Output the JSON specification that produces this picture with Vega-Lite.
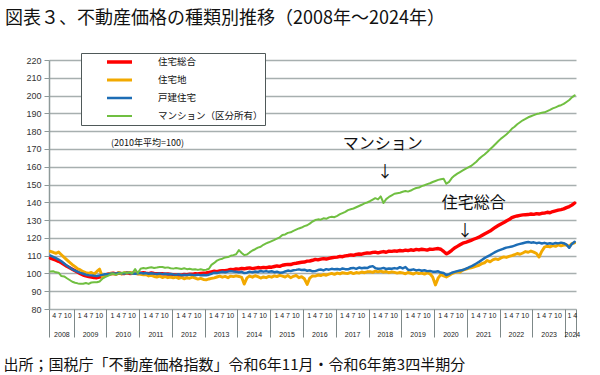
{
"$schema": "https://vega.github.io/schema/vega-lite/v6.json",
"width": 527, "height": 249,
"autosize": {"type": "none"},
"padding": {"left": 49, "top": 60, "right": 24, "bottom": 66},
"background": "white",
"title": {"text": "図表３、不動産価格の種類別推移（2008年～2024年）", "anchor": "start", "frame": "group", "dx": -44, "fontSize": 18, "font": "Noto Sans CJK JP", "fontWeight": "normal", "color": "#111111", "offset": 25},
"data": {"values": [
{"d":"2008-04","t":108.6,"l":112.4,"k":110.0,"m":101.1},
{"d":"2008-05","t":108.0,"l":111.9,"k":109.3,"m":101.2},
{"d":"2008-06","t":107.5,"l":111.3,"k":108.6,"m":100.6},
{"d":"2008-07","t":106.8,"l":112.0,"k":107.8,"m":100.4},
{"d":"2008-08","t":106.0,"l":110.5,"k":106.8,"m":98.5},
{"d":"2008-09","t":105.0,"l":109.0,"k":105.6,"m":98.3},
{"d":"2008-10","t":104.0,"l":107.6,"k":104.4,"m":97.3},
{"d":"2008-11","t":103.2,"l":106.2,"k":103.3,"m":96.3},
{"d":"2008-12","t":102.4,"l":104.9,"k":102.3,"m":95.3},
{"d":"2009-01","t":101.5,"l":103.8,"k":101.6,"m":94.8},
{"d":"2009-02","t":100.6,"l":102.6,"k":100.9,"m":94.4},
{"d":"2009-03","t":99.8,"l":102.0,"k":100.3,"m":94.2},
{"d":"2009-04","t":99.1,"l":101.0,"k":99.8,"m":94.2},
{"d":"2009-05","t":98.6,"l":100.4,"k":99.3,"m":94.6},
{"d":"2009-06","t":98.2,"l":100.0,"k":99.0,"m":94.1},
{"d":"2009-07","t":98.0,"l":100.6,"k":98.9,"m":94.9},
{"d":"2009-08","t":97.7,"l":99.6,"k":98.7,"m":95.1},
{"d":"2009-09","t":97.6,"l":101.1,"k":98.6,"m":95.0},
{"d":"2009-10","t":97.9,"l":102.4,"k":98.9,"m":95.5},
{"d":"2009-11","t":98.6,"l":98.0,"k":99.2,"m":97.0},
{"d":"2009-12","t":98.9,"l":99.0,"k":99.5,"m":97.9},
{"d":"2010-01","t":99.6,"l":99.3,"k":99.5,"m":98.6},
{"d":"2010-02","t":99.8,"l":100.1,"k":99.9,"m":99.4},
{"d":"2010-03","t":100.1,"l":99.8,"k":100.0,"m":99.8},
{"d":"2010-04","t":99.7,"l":99.6,"k":99.8,"m":99.2},
{"d":"2010-05","t":100.2,"l":100.5,"k":100.3,"m":99.9},
{"d":"2010-06","t":100.0,"l":99.7,"k":100.1,"m":100.2},
{"d":"2010-07","t":99.9,"l":100.4,"k":99.9,"m":100.6},
{"d":"2010-08","t":100.3,"l":100.2,"k":100.4,"m":100.3},
{"d":"2010-09","t":100.0,"l":100.6,"k":100.2,"m":100.6},
{"d":"2010-10","t":100.1,"l":99.9,"k":100.0,"m":100.1},
{"d":"2010-11","t":100.2,"l":100.0,"k":99.8,"m":102.4},
{"d":"2010-12","t":99.9,"l":99.8,"k":100.1,"m":100.2},
{"d":"2011-01","t":100.2,"l":99.5,"k":100.3,"m":102.6},
{"d":"2011-02","t":100.4,"l":99.2,"k":100.0,"m":103.0},
{"d":"2011-03","t":100.1,"l":99.4,"k":100.2,"m":102.8},
{"d":"2011-04","t":99.9,"l":98.6,"k":99.8,"m":103.2},
{"d":"2011-05","t":100.3,"l":98.9,"k":100.1,"m":103.5},
{"d":"2011-06","t":100.0,"l":98.3,"k":99.9,"m":103.1},
{"d":"2011-07","t":99.8,"l":98.0,"k":99.7,"m":103.3},
{"d":"2011-08","t":99.9,"l":98.5,"k":100.0,"m":103.6},
{"d":"2011-09","t":99.8,"l":97.7,"k":99.6,"m":103.6},
{"d":"2011-10","t":99.6,"l":98.2,"k":99.8,"m":103.2},
{"d":"2011-11","t":99.7,"l":97.6,"k":99.5,"m":103.4},
{"d":"2011-12","t":99.5,"l":98.0,"k":99.7,"m":102.9},
{"d":"2012-01","t":99.3,"l":97.5,"k":99.4,"m":102.7},
{"d":"2012-02","t":99.1,"l":97.9,"k":99.2,"m":103.0},
{"d":"2012-03","t":99.2,"l":97.2,"k":99.5,"m":102.8},
{"d":"2012-04","t":99.0,"l":97.8,"k":99.0,"m":102.5},
{"d":"2012-05","t":99.4,"l":97.0,"k":99.3,"m":102.9},
{"d":"2012-06","t":99.3,"l":97.6,"k":99.1,"m":102.4},
{"d":"2012-07","t":99.6,"l":97.3,"k":99.4,"m":102.6},
{"d":"2012-08","t":99.5,"l":97.9,"k":99.2,"m":102.2},
{"d":"2012-09","t":99.8,"l":97.4,"k":99.0,"m":102.4},
{"d":"2012-10","t":99.7,"l":96.8,"k":99.3,"m":102.0},
{"d":"2012-11","t":100.0,"l":97.2,"k":98.9,"m":102.3},
{"d":"2012-12","t":100.2,"l":96.6,"k":99.1,"m":101.9},
{"d":"2013-01","t":100.3,"l":96.4,"k":99.0,"m":102.1},
{"d":"2013-02","t":100.6,"l":96.9,"k":99.3,"m":102.6},
{"d":"2013-03","t":100.9,"l":97.2,"k":99.8,"m":104.8},
{"d":"2013-04","t":101.2,"l":97.5,"k":100.4,"m":105.9},
{"d":"2013-05","t":101.0,"l":98.0,"k":100.2,"m":107.2},
{"d":"2013-06","t":101.4,"l":98.5,"k":100.6,"m":107.9},
{"d":"2013-07","t":101.6,"l":97.9,"k":100.9,"m":108.3},
{"d":"2013-08","t":101.5,"l":98.3,"k":100.7,"m":109.0},
{"d":"2013-09","t":101.8,"l":97.6,"k":101.0,"m":109.2},
{"d":"2013-10","t":102.3,"l":98.5,"k":101.3,"m":109.9},
{"d":"2013-11","t":102.1,"l":98.2,"k":101.1,"m":110.3},
{"d":"2013-12","t":102.5,"l":98.6,"k":101.0,"m":110.8},
{"d":"2014-01","t":102.4,"l":98.3,"k":100.6,"m":113.1},
{"d":"2014-02","t":102.8,"l":97.8,"k":100.9,"m":111.5},
{"d":"2014-03","t":102.6,"l":94.0,"k":100.2,"m":110.3},
{"d":"2014-04","t":102.9,"l":97.5,"k":100.4,"m":110.6},
{"d":"2014-05","t":103.1,"l":98.5,"k":101.0,"m":111.8},
{"d":"2014-06","t":102.7,"l":97.9,"k":100.6,"m":112.9},
{"d":"2014-07","t":103.0,"l":98.7,"k":101.1,"m":113.6},
{"d":"2014-08","t":103.3,"l":98.2,"k":100.8,"m":114.5},
{"d":"2014-09","t":103.1,"l":97.4,"k":101.4,"m":115.0},
{"d":"2014-10","t":103.4,"l":98.0,"k":101.0,"m":116.1},
{"d":"2014-11","t":103.2,"l":97.6,"k":101.3,"m":116.9},
{"d":"2014-12","t":103.6,"l":98.3,"k":100.9,"m":117.5},
{"d":"2015-01","t":103.5,"l":97.9,"k":101.2,"m":118.2},
{"d":"2015-02","t":103.9,"l":98.6,"k":100.7,"m":118.9},
{"d":"2015-03","t":104.2,"l":98.2,"k":101.0,"m":119.6},
{"d":"2015-04","t":104.0,"l":98.9,"k":100.4,"m":120.3},
{"d":"2015-05","t":104.6,"l":98.5,"k":100.5,"m":121.6},
{"d":"2015-06","t":104.9,"l":98.0,"k":101.1,"m":121.9},
{"d":"2015-07","t":105.1,"l":98.8,"k":101.6,"m":122.8},
{"d":"2015-08","t":105.0,"l":97.6,"k":101.3,"m":123.1},
{"d":"2015-09","t":105.5,"l":98.4,"k":101.8,"m":123.9},
{"d":"2015-10","t":105.7,"l":98.9,"k":102.0,"m":124.6},
{"d":"2015-11","t":106.0,"l":97.6,"k":102.3,"m":125.3},
{"d":"2015-12","t":106.3,"l":98.2,"k":101.9,"m":125.8},
{"d":"2016-01","t":106.4,"l":97.0,"k":102.1,"m":126.6},
{"d":"2016-02","t":106.9,"l":93.8,"k":101.5,"m":127.1},
{"d":"2016-03","t":107.0,"l":97.4,"k":101.8,"m":128.0},
{"d":"2016-04","t":107.4,"l":98.6,"k":101.2,"m":129.2},
{"d":"2016-05","t":107.9,"l":98.5,"k":101.3,"m":130.0},
{"d":"2016-06","t":107.6,"l":99.1,"k":101.9,"m":130.4},
{"d":"2016-07","t":108.0,"l":98.8,"k":102.2,"m":130.2},
{"d":"2016-08","t":108.3,"l":99.4,"k":101.7,"m":131.0},
{"d":"2016-09","t":108.1,"l":99.0,"k":102.4,"m":130.7},
{"d":"2016-10","t":108.5,"l":99.6,"k":102.1,"m":131.5},
{"d":"2016-11","t":108.8,"l":100.0,"k":102.6,"m":131.9},
{"d":"2016-12","t":109.0,"l":99.5,"k":102.3,"m":131.6},
{"d":"2017-01","t":109.2,"l":100.2,"k":102.5,"m":132.4},
{"d":"2017-02","t":109.6,"l":99.8,"k":102.2,"m":133.3},
{"d":"2017-03","t":109.4,"l":100.4,"k":102.8,"m":133.9},
{"d":"2017-04","t":109.9,"l":100.1,"k":102.4,"m":134.6},
{"d":"2017-05","t":110.1,"l":100.0,"k":102.3,"m":135.6},
{"d":"2017-06","t":110.4,"l":100.6,"k":102.9,"m":136.1},
{"d":"2017-07","t":110.2,"l":99.9,"k":103.1,"m":136.5},
{"d":"2017-08","t":110.7,"l":100.5,"k":102.6,"m":137.2},
{"d":"2017-09","t":110.9,"l":100.2,"k":103.3,"m":137.9},
{"d":"2017-10","t":110.8,"l":100.8,"k":102.9,"m":138.6},
{"d":"2017-11","t":111.3,"l":100.4,"k":103.2,"m":139.4},
{"d":"2017-12","t":111.5,"l":100.9,"k":103.0,"m":139.9},
{"d":"2018-01","t":111.4,"l":101.0,"k":103.8,"m":140.6},
{"d":"2018-02","t":111.8,"l":100.6,"k":104.1,"m":141.5},
{"d":"2018-03","t":112.0,"l":101.3,"k":103.0,"m":142.3},
{"d":"2018-04","t":111.6,"l":100.9,"k":102.6,"m":141.6},
{"d":"2018-05","t":112.0,"l":101.3,"k":102.7,"m":143.3},
{"d":"2018-06","t":112.3,"l":100.7,"k":103.1,"m":139.6},
{"d":"2018-07","t":111.9,"l":101.1,"k":102.5,"m":141.8},
{"d":"2018-08","t":112.5,"l":100.4,"k":102.8,"m":143.0},
{"d":"2018-09","t":112.4,"l":100.9,"k":102.6,"m":143.9},
{"d":"2018-10","t":112.7,"l":100.6,"k":103.0,"m":144.8},
{"d":"2018-11","t":112.5,"l":100.2,"k":102.7,"m":145.1},
{"d":"2018-12","t":112.9,"l":100.5,"k":103.5,"m":145.4},
{"d":"2019-01","t":112.7,"l":100.3,"k":102.8,"m":145.9},
{"d":"2019-02","t":113.1,"l":99.8,"k":103.6,"m":146.3},
{"d":"2019-03","t":112.8,"l":100.5,"k":102.1,"m":146.0},
{"d":"2019-04","t":113.3,"l":100.1,"k":101.9,"m":146.6},
{"d":"2019-05","t":113.0,"l":99.7,"k":102.3,"m":147.4},
{"d":"2019-06","t":113.5,"l":100.4,"k":101.7,"m":148.0},
{"d":"2019-07","t":113.2,"l":99.9,"k":102.0,"m":148.3},
{"d":"2019-08","t":113.6,"l":100.2,"k":101.5,"m":149.1},
{"d":"2019-09","t":113.4,"l":99.6,"k":101.8,"m":149.6},
{"d":"2019-10","t":113.1,"l":100.3,"k":101.3,"m":150.2},
{"d":"2019-11","t":113.7,"l":99.8,"k":101.4,"m":150.7},
{"d":"2019-12","t":113.5,"l":98.0,"k":101.0,"m":151.4},
{"d":"2020-01","t":113.8,"l":93.5,"k":100.9,"m":152.0},
{"d":"2020-02","t":114.0,"l":97.5,"k":101.2,"m":152.6},
{"d":"2020-03","t":113.6,"l":99.3,"k":100.5,"m":153.0},
{"d":"2020-04","t":112.4,"l":98.6,"k":100.2,"m":153.2},
{"d":"2020-05","t":111.0,"l":98.0,"k":99.1,"m":150.4},
{"d":"2020-06","t":111.8,"l":98.9,"k":99.6,"m":151.5},
{"d":"2020-07","t":113.0,"l":99.8,"k":100.4,"m":153.6},
{"d":"2020-08","t":114.3,"l":100.5,"k":100.9,"m":155.0},
{"d":"2020-09","t":115.2,"l":101.0,"k":101.3,"m":156.1},
{"d":"2020-10","t":116.1,"l":100.7,"k":101.7,"m":157.0},
{"d":"2020-11","t":117.0,"l":101.9,"k":101.9,"m":157.9},
{"d":"2020-12","t":117.4,"l":102.3,"k":102.6,"m":158.8},
{"d":"2021-01","t":118.0,"l":102.8,"k":103.2,"m":159.6},
{"d":"2021-02","t":118.6,"l":103.2,"k":103.9,"m":160.4},
{"d":"2021-03","t":119.2,"l":103.6,"k":104.7,"m":161.5},
{"d":"2021-04","t":119.8,"l":104.1,"k":105.6,"m":162.8},
{"d":"2021-05","t":120.4,"l":104.6,"k":106.5,"m":164.4},
{"d":"2021-06","t":121.3,"l":105.5,"k":107.6,"m":165.7},
{"d":"2021-07","t":122.2,"l":106.0,"k":108.6,"m":166.9},
{"d":"2021-08","t":123.0,"l":107.3,"k":109.5,"m":168.3},
{"d":"2021-09","t":123.8,"l":106.5,"k":110.3,"m":169.8},
{"d":"2021-10","t":124.9,"l":107.6,"k":111.2,"m":171.2},
{"d":"2021-11","t":126.0,"l":108.2,"k":112.1,"m":172.8},
{"d":"2021-12","t":126.9,"l":107.8,"k":112.8,"m":174.3},
{"d":"2022-01","t":127.8,"l":108.7,"k":113.4,"m":175.8},
{"d":"2022-02","t":128.6,"l":109.3,"k":114.0,"m":177.0},
{"d":"2022-03","t":129.5,"l":109.0,"k":114.5,"m":178.1},
{"d":"2022-04","t":130.3,"l":109.6,"k":114.8,"m":179.6},
{"d":"2022-05","t":131.4,"l":110.0,"k":115.1,"m":181.3},
{"d":"2022-06","t":131.9,"l":110.5,"k":115.6,"m":182.5},
{"d":"2022-07","t":132.3,"l":111.2,"k":116.2,"m":183.9},
{"d":"2022-08","t":132.6,"l":110.8,"k":116.6,"m":185.0},
{"d":"2022-09","t":132.9,"l":111.5,"k":117.0,"m":186.1},
{"d":"2022-10","t":133.0,"l":112.3,"k":117.4,"m":186.9},
{"d":"2022-11","t":133.1,"l":111.9,"k":117.7,"m":187.8},
{"d":"2022-12","t":133.4,"l":112.6,"k":117.3,"m":188.4},
{"d":"2023-01","t":133.2,"l":112.0,"k":117.5,"m":189.0},
{"d":"2023-02","t":133.6,"l":111.2,"k":117.0,"m":189.6},
{"d":"2023-03","t":133.4,"l":109.2,"k":117.3,"m":189.9},
{"d":"2023-04","t":133.8,"l":112.5,"k":116.8,"m":190.3},
{"d":"2023-05","t":133.9,"l":114.8,"k":117.2,"m":190.6},
{"d":"2023-06","t":134.4,"l":115.3,"k":116.7,"m":191.3},
{"d":"2023-07","t":134.1,"l":114.9,"k":117.0,"m":192.0},
{"d":"2023-08","t":134.8,"l":115.6,"k":116.6,"m":192.8},
{"d":"2023-09","t":135.2,"l":115.2,"k":117.1,"m":193.4},
{"d":"2023-10","t":135.6,"l":116.0,"k":116.9,"m":194.1},
{"d":"2023-11","t":135.9,"l":115.5,"k":117.3,"m":194.6},
{"d":"2023-12","t":136.3,"l":115.9,"k":117.0,"m":195.3},
{"d":"2024-01","t":137.0,"l":116.0,"k":116.2,"m":196.4},
{"d":"2024-02","t":137.6,"l":115.2,"k":114.4,"m":197.5},
{"d":"2024-03","t":138.4,"l":116.8,"k":116.6,"m":199.0},
{"d":"2024-04","t":139.6,"l":117.2,"k":117.8,"m":200.1}
]},
"layer": [
{
"transform": [{"fold": ["t", "l", "k", "m"], "as": ["s", "v"]}],
"mark": {"type": "line", "strokeJoin": "round", "strokeCap": "round"},
"encoding": {
"x": {"field": "d", "type": "temporal",
"scale": {"type": "utc", "domain": [{"year": 2008, "month": 3, "date": 16, "utc": true}, {"year": 2024, "month": 4, "date": 16, "utc": true}]},
"axis": {"orient": "bottom", "values": [
{"year": 2008, "month": 3, "date": 16, "utc": true},
{"year": 2008, "month": 12, "date": 16, "utc": true},
{"year": 2009, "month": 12, "date": 16, "utc": true},
{"year": 2010, "month": 12, "date": 16, "utc": true},
{"year": 2011, "month": 12, "date": 16, "utc": true},
{"year": 2012, "month": 12, "date": 16, "utc": true},
{"year": 2013, "month": 12, "date": 16, "utc": true},
{"year": 2014, "month": 12, "date": 16, "utc": true},
{"year": 2015, "month": 12, "date": 16, "utc": true},
{"year": 2016, "month": 12, "date": 16, "utc": true},
{"year": 2017, "month": 12, "date": 16, "utc": true},
{"year": 2018, "month": 12, "date": 16, "utc": true},
{"year": 2019, "month": 12, "date": 16, "utc": true},
{"year": 2020, "month": 12, "date": 16, "utc": true},
{"year": 2021, "month": 12, "date": 16, "utc": true},
{"year": 2022, "month": 12, "date": 16, "utc": true},
{"year": 2023, "month": 12, "date": 16, "utc": true},
{"year": 2024, "month": 4, "date": 16, "utc": true}],
"labels": false, "domain": false, "grid": false, "ticks": true, "tickSize": 28, "tickColor": "#7d8888", "tickWidth": 1, "title": null}},
"y": {"field": "v", "type": "quantitative",
"scale": {"domain": [80, 220], "nice": false, "zero": false},
"axis": {"orient": "left", "values": [80, 90, 100, 110, 120, 130, 140, 150, 160, 170, 180, 190, 200, 210, 220], "grid": true, "gridColor": "#a7afaf", "gridWidth": 1.5, "domainColor": "#8d9999", "domainWidth": 1.5, "tickColor": "#8d9999", "tickSize": 5, "tickWidth": 1, "labelFont": "Liberation Sans", "labelFontSize": 9, "labelColor": "#333333", "labelPadding": 3, "title": null}},
"color": {"field": "s", "type": "nominal",
"scale": {"domain": ["t", "l", "k", "m"], "range": ["#ff0000", "#f2a900", "#1d6db5", "#70bf41"]},
"legend": {"orient": "none", "legendX": 32, "legendY": -7, "title": null, "direction": "vertical",
"labelExpr": "datum.label=='t'?'住宅総合':datum.label=='l'?'住宅地':datum.label=='k'?'戸建住宅':'マンション（区分所有）　　　'",
"symbolType": "stroke", "symbolSize": 625, "symbolStrokeWidth": 3,
"labelFont": "Noto Sans CJK JP", "labelFontSize": 9.5, "labelColor": "#111111",
"padding": 2, "symbolOffset": 22, "labelOffset": 24, "clipHeight": 14, "rowPadding": 4,
"strokeColor": "#4f5959", "fillColor": "white"}},
"strokeWidth": {"field": "s", "type": "nominal", "scale": {"domain": ["t", "l", "k", "m"], "range": [3.4, 2, 2, 2]}, "legend": null}
}
},
{
"mark": {"type": "point", "opacity": 0},
"encoding": {
"x": {"field": "d", "type": "temporal",
"axis": {"orient": "bottom", "values": [
{"year": 2008, "month": 8, "date": 1, "utc": true},
{"year": 2009, "month": 6, "date": 16, "utc": true},
{"year": 2010, "month": 6, "date": 16, "utc": true},
{"year": 2011, "month": 6, "date": 16, "utc": true},
{"year": 2012, "month": 6, "date": 16, "utc": true},
{"year": 2013, "month": 6, "date": 16, "utc": true},
{"year": 2014, "month": 6, "date": 16, "utc": true},
{"year": 2015, "month": 6, "date": 16, "utc": true},
{"year": 2016, "month": 6, "date": 16, "utc": true},
{"year": 2017, "month": 6, "date": 16, "utc": true},
{"year": 2018, "month": 6, "date": 16, "utc": true},
{"year": 2019, "month": 6, "date": 16, "utc": true},
{"year": 2020, "month": 6, "date": 16, "utc": true},
{"year": 2021, "month": 6, "date": 16, "utc": true},
{"year": 2022, "month": 6, "date": 16, "utc": true},
{"year": 2023, "month": 6, "date": 16, "utc": true},
{"year": 2024, "month": 3, "date": 1, "utc": true}],
"labelExpr": "[utcyear(datum.value)==2008?'4 7 10':utcyear(datum.value)==2024?'1 4':'1 4 7 10', ''+utcyear(datum.value)]",
"ticks": false, "tickSize": 0, "domain": false, "grid": false,
"labelFont": "Liberation Sans", "labelFontSize": 7, "labelColor": "#222222", "labelLineHeight": 19.5, "labelBaseline": "top", "labelPadding": 2,
"labelOverlap": false, "labelFlush": false, "labelBound": false,
"title": "出所；国税庁「不動産価格指数」令和6年11月・令和6年第3四半期分",
"titleFont": "Noto Sans CJK JP", "titleFontSize": 15, "titleFontWeight": "normal", "titleColor": "#111111",
"titleAnchor": "start", "titleAlign": "left", "titleX": -46, "titleY": 48, "titleBaseline": "top"}}
}
},
{
"data": {"values": [
{"x": "2018-05-25", "y": 172.5, "label": "マンション"},
{"x": "2018-06-17", "y": 157.0, "label": "↓"},
{"x": "2021-03-04", "y": 139.4, "label": "住宅総合"},
{"x": "2020-11-26", "y": 124.1, "label": "↓"}
]},
"mark": {"type": "text", "font": "Noto Sans CJK JP", "fontSize": 16, "color": "#111111", "align": "center", "baseline": "middle"},
"encoding": {
"x": {"field": "x", "type": "temporal", "axis": null},
"y": {"field": "y", "type": "quantitative", "axis": null},
"text": {"field": "label"}
}
},
{
"data": {"values": [
{"x": "2011-03-18", "y": 173.6, "label": "(2010年平均=100)"}
]},
"mark": {"type": "text", "font": "Noto Sans CJK JP", "fontSize": 9, "color": "#111111", "align": "center", "baseline": "middle"},
"encoding": {
"x": {"field": "x", "type": "temporal", "axis": null},
"y": {"field": "y", "type": "quantitative", "axis": null},
"text": {"field": "label"}
}
}
],
"resolve": {"axis": {"x": "independent", "y": "independent"}},
"config": {"view": {"stroke": null}}
}
